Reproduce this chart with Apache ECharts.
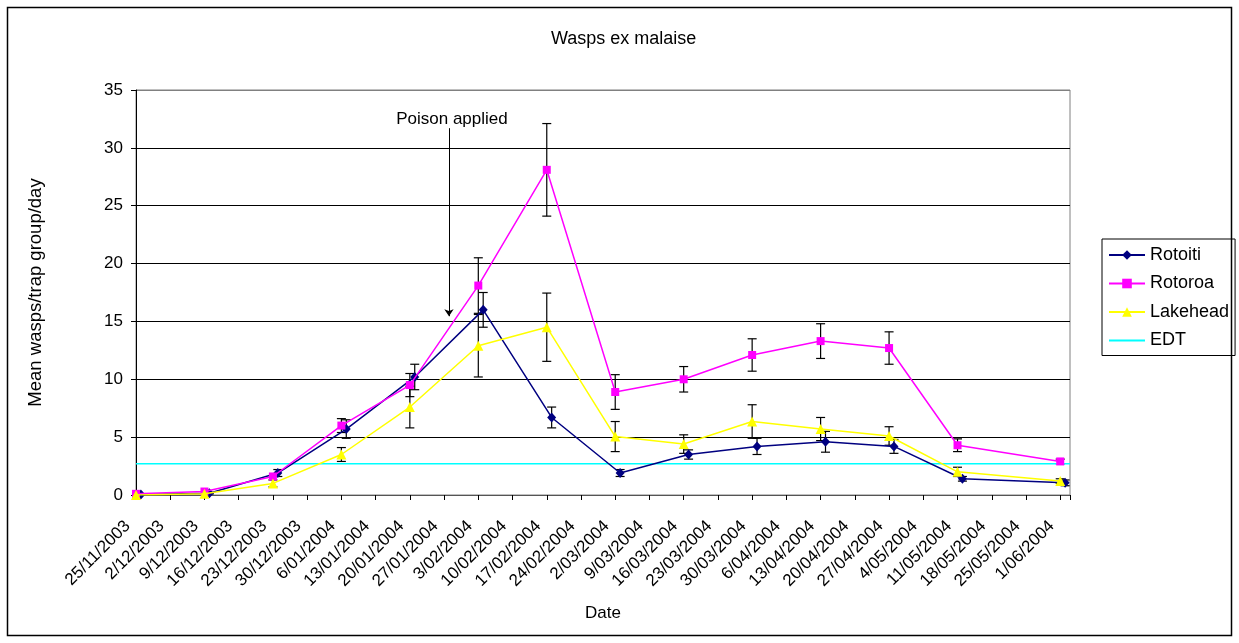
<!DOCTYPE html>
<html><head><meta charset="utf-8">
<script src="https://cdn.jsdelivr.net/npm/echarts@6/dist/echarts.min.js"></script>
<style>html,body{margin:0;padding:0;background:#fff}#c{width:1239px;height:643px}</style>
</head><body><div id="c"></div>
<script>
// ---------- data ----------
const axisStartDate = '25/11/2003';
const axisEndDate = '3/06/2004';
const siteDates = ['25/11/2003','9/12/2003','23/12/2003','6/01/2004','20/01/2004','3/02/2004','17/02/2004','2/03/2004','16/03/2004','30/03/2004','13/04/2004','27/04/2004','11/05/2004','1/06/2004'];
const rotoitiDates = ['26/11/2003','10/12/2003','24/12/2003','7/01/2004','21/01/2004','4/02/2004','18/02/2004','3/03/2004','17/03/2004','31/03/2004','14/04/2004','28/04/2004','12/05/2004','2/06/2004'];
const rotoitiMean = [0.05, 0.15, 1.9, 5.7, 10.2, 16.0, 6.7, 1.9, 3.5, 4.2, 4.6, 4.2, 1.4, 1.05];
const rotoitiErr  = [0, 0.05, 0.3, 0.8, 1.1, 1.5, 0.9, 0.3, 0.4, 0.7, 0.9, 0.6, 0.2, 0.25];
const rotoroaMean = [0.1, 0.3, 1.6, 6.0, 9.5, 18.1, 28.1, 8.9, 10.0, 12.1, 13.3, 12.7, 4.3, 2.9];
const rotoroaErr  = [0, 0, 0, 0.6, 1.0, 2.4, 4.0, 1.5, 1.1, 1.4, 1.5, 1.4, 0.55, 0.2];
const lakeheadMean = [0, 0.1, 1.0, 3.5, 7.6, 12.9, 14.5, 5.05, 4.4, 6.35, 5.7, 5.1, 2.0, 1.2];
const lakeheadErr  = [0, 0, 0.3, 0.6, 1.8, 2.7, 2.95, 1.3, 0.8, 1.45, 1.0, 0.8, 0.4, 0.2];
const edtDates = ['25/11/2003','3/06/2004'];
const edtValues = [2.7, 2.7];
const poisonDate = '28/01/2004';
const poisonArrowFrom = 31.7, poisonArrowTo = 15.45;
const yTicks = {min: 0, max: 35, interval: 5};
const xTickDays = 7;

// ---------- helpers ----------
function parseD(s){const [d,m,y]=s.split('/').map(Number);return Date.UTC(y,m-1,d);}
const base = parseD(axisStartDate);
function toDay(s){return (parseD(s)-base)/86400000;}
function dayLabel(v){
  if (Math.abs(v % xTickDays) > 1e-6) return '';
  const dt = new Date(base + v*86400000);
  return dt.getUTCDate()+'/'+String(dt.getUTCMonth()+1).padStart(2,'0')+'/'+dt.getUTCFullYear();
}
function pts(dates, vals){return dates.map((d,i)=>[toDay(d), vals[i]]);}
function errPts(dates, vals, errs){
  const out=[]; dates.forEach((d,i)=>{ if(errs[i]>0) out.push([toDay(d), vals[i]-errs[i], vals[i]+errs[i]]); }); return out;
}
function errRender(params, api){
  const x = api.value(0), lo = api.value(1), hi = api.value(2);
  const a = api.coord([x, lo]), b = api.coord([x, hi]);
  const w = 4.5;
  const style = {stroke:'#000', lineWidth:1.2, fill:null};
  return {type:'group', children:[
    {type:'line', shape:{x1:a[0],y1:a[1],x2:b[0],y2:b[1]}, style},
    {type:'line', shape:{x1:a[0]-w,y1:a[1],x2:a[0]+w,y2:a[1]}, style},
    {type:'line', shape:{x1:b[0]-w,y1:b[1],x2:b[0]+w,y2:b[1]}, style}
  ]};
}
const FONT = 'Liberation Sans, Arial, sans-serif';
const chart = echarts.init(document.getElementById('c'));
const errSeries = (name, data) => ({
  type:'custom', name, renderItem: errRender, data, encode:{x:0,y:[1,2]}, z:1, silent:true
});
chart.setOption({
  animation:false,
  textStyle:{fontFamily:FONT, color:'#000'},
  title:{text:'Wasps ex malaise', left:546, top:25,
    textStyle:{fontFamily:FONT, fontSize:18, fontWeight:'normal', color:'#000'}},
  grid:{left:136, right:169, top:90, bottom:148, show:true, borderColor:'#808080', borderWidth:1},
  legend:{
    orient:'vertical', left:1102, top:239,
    data:['Rotoiti','Rotoroa','Lakehead',{name:'EDT', itemStyle:{opacity:0}}],
    itemWidth:36, itemHeight:12, itemGap:10.5,
    padding:[7,6,6,6], borderColor:'#000', borderWidth:1,
    textStyle:{fontFamily:FONT, fontSize:18, color:'#000'}
  },
  xAxis:{
    type:'value', min:toDay(axisStartDate), max:toDay(axisEndDate), interval:xTickDays,
    name:'Date', nameLocation:'middle', nameGap:110,
    nameTextStyle:{fontFamily:FONT, fontSize:17, color:'#000'},
    axisLine:{lineStyle:{color:'#555', width:1}},
    axisTick:{show:true, length:5, lineStyle:{color:'#000'}},
    axisLabel:{rotate:45, margin:20, padding:[0,12,0,0], fontSize:17, color:'#000', fontFamily:FONT, formatter:dayLabel, hideOverlap:false},
    splitLine:{show:false}
  },
  yAxis:{
    type:'value', min:yTicks.min, max:yTicks.max, interval:yTicks.interval,
    name:'Mean wasps/trap group/day', nameLocation:'middle', nameGap:91,
    nameTextStyle:{fontFamily:FONT, fontSize:18.5, color:'#000'},
    axisLine:{show:true, lineStyle:{color:'#000', width:1}},
    axisTick:{show:true, length:5, lineStyle:{color:'#000'}},
    axisLabel:{margin:13, fontSize:17, color:'#000', fontFamily:FONT},
    splitLine:{show:true, lineStyle:{color:['#000','#000','#000','#000','#000','#000','#000','#808080'], width:1}}
  },
  series:[
    errSeries('errRotoiti', errPts(rotoitiDates, rotoitiMean, rotoitiErr)),
    errSeries('errRotoroa', errPts(siteDates, rotoroaMean, rotoroaErr)),
    errSeries('errLakehead', errPts(siteDates, lakeheadMean, lakeheadErr)),
    {type:'line', name:'EDT', data:pts(edtDates, edtValues), symbol:'none',
      lineStyle:{color:'#00FFFF', width:1.5}, itemStyle:{color:'#00FFFF'}, z:2,
      markLine:{silent:true, symbol:['none','arrow'], symbolSize:7,
        lineStyle:{color:'#000', width:1, type:'solid'},
        label:{show:true, position:'start', formatter:'Poison applied', fontSize:17, color:'#000', fontFamily:FONT, distance:0, offset:[3,0]},
        data:[[{coord:[toDay(poisonDate), poisonArrowFrom]},{coord:[toDay(poisonDate), poisonArrowTo]}]]}},
    {type:'line', name:'Rotoiti', data:pts(rotoitiDates, rotoitiMean), symbol:'diamond', symbolSize:[9,10],
      lineStyle:{color:'#000080', width:1.5}, itemStyle:{color:'#000080'}, z:3},
    {type:'line', name:'Rotoroa', data:pts(siteDates, rotoroaMean), symbol:'rect', symbolSize:8,
      lineStyle:{color:'#FF00FF', width:1.5}, itemStyle:{color:'#FF00FF'}, z:4},
    {type:'line', name:'Lakehead', data:pts(siteDates, lakeheadMean), symbol:'triangle', symbolSize:10,
      lineStyle:{color:'#FFFF00', width:1.5}, itemStyle:{color:'#FFFF00'}, z:5}
  ],
  graphic:[{type:'rect', shape:{x:7.5, y:7.5, width:1224, height:628}, style:{fill:null, stroke:'#000', lineWidth:1.5}, silent:true}]
});
</script></body></html>
